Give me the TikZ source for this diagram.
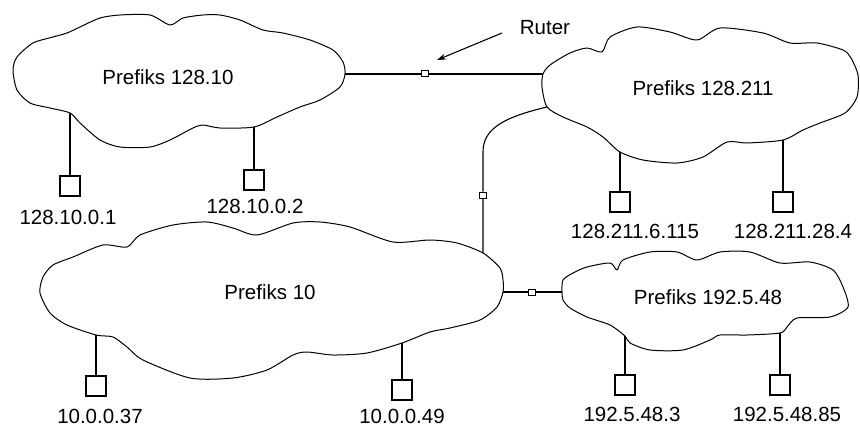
\documentclass[tikz,border=0pt]{standalone}
\usepackage{fontspec}
\setmainfont{Liberation Sans}
\usetikzlibrary{arrows.meta}
\begin{document}
\begin{tikzpicture}[x=1pt,y=-1pt,
  cloudline/.style={line width=1pt,line join=round},
  wire/.style={line width=1.1pt},
  hostbox/.style={draw,line width=1.1pt,fill=white,minimum width=20pt,minimum height=20pt,inner sep=0pt},
  routerbox/.style={draw,line width=1pt,fill=white,minimum width=7pt,minimum height=6pt,inner sep=0pt},
  lbl/.style={font=\fontsize{20.5}{24}\selectfont,inner sep=0pt},
]
\useasboundingbox (0,0) rectangle (860,428);

% --- cloud outlines ---
\draw[cloudline] plot[smooth cycle,tension=0.45] coordinates {
  (13,70) (17,57) (33,43) (53,37) (67,33) (80,27) (100,18) (120,15) (150,15)
  (170,25) (183,18) (203,15) (220,15) (240,20) (263,30) (283,33) (310,40)
  (333,50) (343,62) (345,74) (340,87) (320,100) (300,107) (277,117) (254,127)
  (220,128) (203,125) (193,128) (170,140) (150,147) (120,147) (100,140)
  (80,123) (70,113) (50,108) (30,103) (17,90)};
\draw[cloudline] plot[smooth cycle,tension=0.45] coordinates {
  (543,74) (542,87) (547,107) (563,117) (587,127) (603,137) (620,152)
  (643,160) (677,163) (703,157) (727,142) (747,143) (783,140) (803,130)
  (820,123) (845,113) (857,97) (858,75) (851,58) (843,50) (817,43) (790,43)
  (763,33) (720,28) (697,40) (670,32) (637,27) (610,37) (602,52) (587,48)
  (570,53) (550,65)};
\draw[cloudline] plot[smooth cycle,tension=0.45] coordinates {
  (127,247) (140,235) (173,225) (207,222) (233,228) (257,235) (293,223)
  (320,222) (350,227) (393,242) (430,240) (457,243) (483,253) (500,268)
  (503,280) (503,292) (497,307) (480,320) (450,328) (430,332) (402,343)
  (367,353) (333,355) (307,352) (293,355) (267,370) (233,378) (190,378)
  (143,360) (127,347) (113,337) (96,335) (67,325) (50,313) (40,293)
  (43,277) (53,265) (73,257) (103,245)};
\draw[cloudline] plot[smooth cycle,tension=0.45] coordinates {
  (562,292) (563,280) (573,273) (587,267) (610,263) (617,270) (623,260)
  (650,252) (677,252) (697,260) (720,252) (750,252) (780,263) (810,262)
  (833,270) (843,287) (848,307) (830,317) (797,318) (787,327) (780,333)
  (747,335) (720,335) (710,340) (683,350) (650,350) (630,343) (625,336)
  (610,325) (587,317) (570,308) (563,300)};

% --- network names ---
\node[lbl] (n1) at (168,77) {Prefiks 128.10};
\node[lbl] (n2) at (703,88) {Prefiks 128.211};
\node[lbl] (n3) at (270,292) {Prefiks 10};
\node[lbl] (n4) at (708,297) {Prefiks 192.5.48};

% --- attachment points on the cloud edges ---
\coordinate (c1e) at (345,74);
\coordinate (c2w) at (543,74);
\coordinate (c2s) at (547,107);
\coordinate (c3n) at (483,253);
\coordinate (c3e) at (503,292);
\coordinate (c4w) at (562,292);
\coordinate (c1a) at (70,113);
\coordinate (c1b) at (254,127);
\coordinate (c2a) at (620,152);
\coordinate (c2b) at (783,140);
\coordinate (c3a) at (96,335);
\coordinate (c3b) at (402,343);
\coordinate (c4a) at (625,336);
\coordinate (c4b) at (780,333);

% --- routers ---
\node[routerbox] (r1) at (425,74) {};
\node[routerbox] (r2) at (483,195) {};
\node[routerbox] (r3) at (532,292) {};
\draw[wire] (c1e) -- (r1) -- (c2w);
\draw[wire] (c2s) .. controls (505,117) and (483,128) .. (483,152) -- (r2) -- (c3n);
\draw[wire] (c3e) -- (r3) -- (c4w);

% --- hosts ---
\node[hostbox] (h1) at (70,186) {};
\node[hostbox] (h2) at (254,180) {};
\node[hostbox] (h3) at (620,202) {};
\node[hostbox] (h4) at (783,202) {};
\node[hostbox] (h5) at (96,386) {};
\node[hostbox] (h6) at (402,390) {};
\node[hostbox] (h7) at (625,385) {};
\node[hostbox] (h8) at (780,385) {};
\draw[wire] (c1a) -- (h1.north);
\draw[wire] (c1b) -- (h2.north);
\draw[wire] (c2a) -- (h3.north);
\draw[wire] (c2b) -- (h4.north);
\draw[wire] (c3a) -- (h5.north);
\draw[wire] (c3b) -- (h6.north);
\draw[wire] (c4a) -- (h7.north);
\draw[wire] (c4b) -- (h8.north);

% --- host addresses ---
\node[lbl] (a1) at (68,217) {128.10.0.1};
\node[lbl] (a2) at (255,206) {128.10.0.2};
\node[lbl] (a3) at (635,231) {128.211.6.115};
\node[lbl] (a4) at (793,231) {128.211.28.4};
\node[lbl] (a5) at (100,416) {10.0.0.37};
\node[lbl] (a6) at (402,416) {10.0.0.49};
\node[lbl] (a7) at (632,414) {192.5.48.3};
\node[lbl] (a8) at (787,414) {192.5.48.85};

% --- router callout ---
\node[lbl] (ruter) at (545,28) {Ruter};
\coordinate (rtail) at (502,33);
\coordinate (rhead) at (437,60);
\draw[wire,-{Stealth[length=9pt,width=6pt]}] (rtail) -- (rhead);
\end{tikzpicture}
\end{document}
